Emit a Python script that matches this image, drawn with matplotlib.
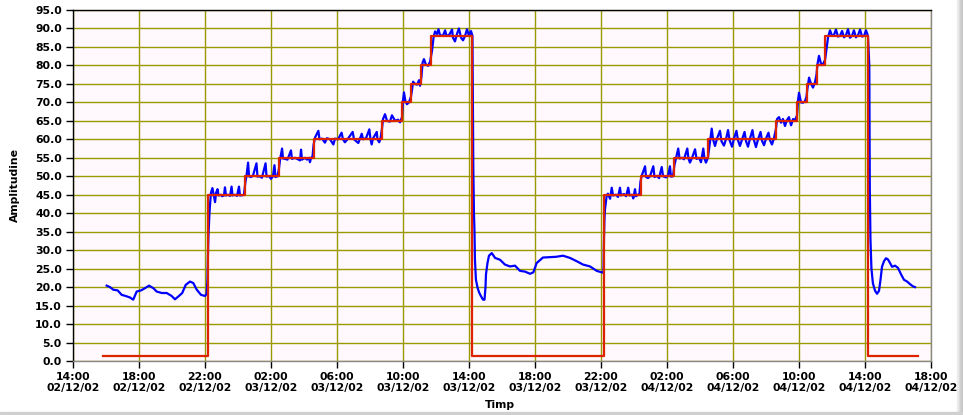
import numpy as np
import matplotlib
matplotlib.use("Agg")
import matplotlib.pyplot as plt
import matplotlib.dates as mdates
from matplotlib.patches import Rectangle

# time is given in hours after 14:00 02/12/02
start = np.datetime64("2002-12-02T14:00")

setpoint_h = [1.82, 8.20, 10.42, 12.50, 14.60, 18.70, 19.96, 20.50, 21.10, 21.70,
              24.20, 32.20, 34.40, 36.40, 38.50, 42.60, 43.90, 44.50, 45.07, 45.60,
              48.20, 51.20]
setpoint_v = [1.3, 45, 50, 55, 60, 65, 70, 75, 80, 88,
              1.3, 45, 50, 55, 60, 65, 70, 75, 80, 88,
              1.3, 1.3]

measured_h = [
    2.04, 2.24, 2.44, 2.71, 2.95, 3.19, 3.45, 3.65, 3.86, 4.12, 4.36, 4.61, 4.87,
    5.07, 5.38, 5.68, 5.98, 6.18, 6.42, 6.62, 6.83, 7.09, 7.29, 7.50, 7.76, 8.00,
    8.10, 8.15, 8.18, 8.21, 8.27, 8.30, 8.36, 8.45, 8.55, 8.61, 8.67, 8.76, 8.82,
    8.97, 9.03, 9.15, 9.21, 9.27, 9.39, 9.52, 9.61, 9.67, 9.82, 9.94, 10.06, 10.12,
    10.30, 10.36, 10.45, 10.52, 10.61, 10.67, 10.79, 10.91, 11.12, 11.18, 11.33,
    11.45, 11.67, 11.73, 11.88, 12.00, 12.12, 12.21, 12.27, 12.39, 12.48, 12.55,
    12.67, 12.73, 12.85, 13.00, 13.21, 13.27, 13.45, 13.76, 13.82, 13.88, 14.06,
    14.18, 14.30, 14.36, 14.42, 14.52, 14.58, 14.67, 14.87, 14.94, 15.09, 15.27,
    15.39, 15.58, 15.78, 15.88, 16.06, 16.28, 16.36, 16.48, 16.67, 16.95, 17.03,
    17.29, 17.39, 17.50, 17.58, 17.76, 17.96, 18.03, 18.10, 18.18, 18.41, 18.45,
    18.56, 18.64, 18.73, 18.79, 18.91, 19.03, 19.21, 19.33, 19.52, 19.70, 19.82,
    19.94, 20.00, 20.06, 20.15, 20.24, 20.36, 20.48, 20.55, 20.61, 20.73, 20.85,
    20.97, 21.03, 21.12, 21.19, 21.27, 21.39, 21.52, 21.64, 21.76, 21.85, 21.94,
    22.06, 22.15, 22.24, 22.42, 22.55, 22.64, 22.79, 22.97, 23.03, 23.15, 23.27,
    23.39, 23.52, 23.64, 23.76, 23.88, 24.00, 24.12, 24.21, 24.26, 24.30, 24.33,
    24.36, 24.42, 24.52, 24.61, 24.73, 24.85, 24.94, 25.00, 25.03, 25.12, 25.21,
    25.38, 25.58, 25.88, 26.18, 26.48, 26.79, 27.09, 27.39, 27.70, 27.90, 28.10,
    28.48, 28.91, 29.27, 29.70, 30.12, 30.53, 30.91, 31.33, 31.74, 32.04, 32.15,
    32.18, 32.21, 32.24, 32.34, 32.42, 32.55, 32.65, 32.73, 32.91, 33.03, 33.15,
    33.21, 33.39, 33.52, 33.65, 33.73, 33.88, 33.96, 34.06, 34.12, 34.24, 34.33,
    34.39, 34.48, 34.67, 34.73, 34.85, 34.97, 35.17, 35.24, 35.39, 35.52, 35.68,
    35.76, 35.94, 36.06, 36.18, 36.24, 36.36, 36.45, 36.55, 36.68, 36.76, 36.91,
    37.03, 37.23, 37.30, 37.39, 37.52, 37.70, 37.79, 37.94, 38.06, 38.20, 38.27,
    38.36, 38.48, 38.58, 38.71, 38.79, 38.91, 39.03, 39.21, 39.30, 39.45, 39.58,
    39.70, 39.79, 39.94, 40.06, 40.21, 40.30, 40.42, 40.55, 40.70, 40.79, 40.91,
    41.03, 41.18, 41.27, 41.39, 41.52, 41.67, 41.76, 41.88, 42.00, 42.15, 42.24,
    42.36, 42.48, 42.61, 42.67, 42.79, 42.91, 43.03, 43.15, 43.27, 43.39, 43.52,
    43.64, 43.76, 43.88, 43.94, 44.00, 44.12, 44.24, 44.36, 44.45, 44.52, 44.61,
    44.73, 44.85, 44.97, 45.06, 45.12, 45.21, 45.33, 45.45, 45.58, 45.67, 45.76,
    45.88, 46.00, 46.12, 46.24, 46.36, 46.48, 46.61, 46.73, 46.85, 46.97, 47.09,
    47.21, 47.33, 47.45, 47.58, 47.70, 47.82, 47.94, 48.06, 48.18, 48.26, 48.29,
    48.33, 48.39, 48.48, 48.61, 48.73, 48.85, 48.94, 49.03, 49.15, 49.27, 49.39,
    49.52, 49.64, 49.82, 50.00, 50.18, 50.36, 50.55, 50.73, 50.91, 51.03]
measured_v = [
    20.4, 20.0, 19.3, 19.1, 17.9, 17.6, 17.2, 16.6, 18.8, 19.1, 19.7, 20.4, 19.7,
    18.8, 18.4, 18.4, 17.6, 16.7, 17.6, 18.4, 20.6, 21.5, 21.1, 19.3, 17.9, 17.6,
    18.2, 22.0, 29.0, 34.0, 40.0, 42.0, 45.5, 46.8, 44.5, 43.0, 45.5, 46.5, 44.8,
    45.0, 44.6, 44.8, 47.0, 44.8, 45.0, 44.7, 47.2, 44.8, 45.0, 44.7, 47.2, 44.8,
    44.9, 45.0, 48.5, 50.3, 53.7, 50.0, 49.8, 50.2, 53.5, 49.9, 50.0,
    49.6, 53.5, 49.9, 50.1, 49.3, 50.0, 53.0, 49.8, 50.0, 52.0, 54.5,
    57.5, 54.8, 54.7, 54.5, 57.0, 54.7, 55.0, 54.3, 57.2, 54.5, 55.0,
    54.5, 55.0, 53.8, 54.8, 55.5, 58.5, 60.5, 62.3, 60.0, 60.2, 59.1,
    60.3, 60.0, 58.6, 60.2, 60.0, 61.8, 60.0, 59.2, 60.2, 62.0, 60.0,
    59.0, 60.2, 61.5, 60.0, 60.3, 62.7, 60.0, 58.6, 60.2, 62.0, 60.0,
    59.2, 60.3, 63.0, 65.5, 66.8, 65.0, 64.8, 66.5, 65.0, 65.3, 64.6,
    66.0, 70.5, 72.7, 70.2, 69.5, 70.0, 71.5, 73.5, 75.6, 75.0, 74.8,
    76.0, 74.5, 77.0, 80.8, 81.7, 80.2, 79.9, 81.0, 84.0, 87.5, 89.2,
    88.5, 89.8, 88.2, 88.0, 89.5, 88.0, 88.2, 89.7, 87.5, 86.5, 88.5,
    90.0, 87.5, 86.8, 88.0, 89.8, 88.0, 89.3, 88.0, 52.5, 40.0, 35.6,
    27.4, 22.0, 19.8, 18.6, 17.5, 16.6, 16.6, 20.0, 23.5, 26.5, 28.5,
    29.2, 27.9, 27.4, 26.1, 25.6, 25.8, 24.4, 24.2, 23.6, 24.0, 26.5,
    28.0, 28.1, 28.2, 28.5, 27.9, 27.0, 26.1, 25.6, 24.4, 24.0, 23.9,
    33.0, 38.3, 41.0, 44.6, 45.3, 43.9, 46.9, 44.8, 45.0, 44.4, 46.9,
    44.8, 45.2, 44.6, 46.9, 44.8, 45.0, 44.0, 46.5, 44.6, 45.0, 45.2,
    48.5, 50.3, 52.7, 49.8, 49.5, 50.0, 52.7, 49.8, 50.1, 49.5, 52.5,
    50.0, 49.7, 50.1, 52.7, 49.9, 50.0, 53.0, 55.0, 57.5, 54.8, 55.0,
    54.6, 57.5, 54.8, 53.7, 55.0, 57.3, 54.7, 55.0, 53.8, 57.5, 54.8,
    53.7, 55.0, 58.5, 62.9, 60.0, 58.2, 60.2, 62.3, 59.5, 58.3, 60.1,
    62.5, 59.8, 58.0, 60.2, 62.3, 59.8, 58.2, 60.0, 62.0, 59.5, 58.0,
    60.2, 62.5, 59.8, 57.9, 60.0, 62.0, 59.6, 58.4, 60.2, 61.8, 59.8,
    58.6, 60.2, 63.0, 65.5, 66.0, 64.5, 65.5, 63.6, 65.2, 66.0, 63.8,
    65.5, 65.2, 66.5, 70.5, 72.6, 70.0, 69.9, 70.3, 71.5, 74.0, 76.7,
    75.0, 74.0, 75.5, 77.5, 80.3, 82.6, 80.5, 80.3, 81.5, 84.5, 87.6,
    89.5, 88.0, 88.3, 89.7, 87.8, 88.0, 89.3, 87.6, 88.2, 89.8, 87.5,
    88.0, 89.5, 87.6, 88.2, 89.7, 87.8, 88.0, 89.5, 88.0, 80.0, 47.0,
    33.0, 25.0, 21.0, 19.0, 18.2, 19.0, 22.0, 25.5, 27.0, 27.8, 27.5,
    26.5, 25.5, 25.8, 25.2, 23.5, 22.0, 21.5, 20.8, 20.2, 20.0]

y_ticks = np.arange(0, 95.1, 5)


def to_time(hours):
    return start + (np.array(hours) * 3600).round().astype("timedelta64[s]")


plt.rcParams["font.family"] = "DejaVu Sans"
plt.rcParams["font.weight"] = "bold"

fig = plt.figure(figsize=(9.63, 4.15), dpi=100)
fig.patch.set_facecolor("white")

# grey window edge on the right and bottom (drawn first, behind the axes)
for i, c in enumerate(["#ececec", "#dedede", "#d0d0d0", "#c4c4c4"]):
    fig.patches.append(Rectangle((957 / 963 + i * 1.5 / 963, 0), 1.5 / 963, 1,
                                 transform=fig.transFigure, color=c, zorder=-5))
fig.patches.append(Rectangle((0, 0), 1, 3 / 415, transform=fig.transFigure,
                             color="#d0d0d0", zorder=-5))

ax = fig.add_axes([73 / 963, 1 - 361 / 415, 858 / 963, 351 / 415])
ax.set_facecolor("#fff8fd")

ax.plot(to_time(measured_h), measured_v, color="#0000ff", lw=1.6, zorder=3)
ax.plot(to_time(setpoint_h), setpoint_v, color="#dd2200", lw=1.6,
        drawstyle="steps-post", zorder=4)

ax.set_ylim(0, 95)
ax.set_yticks(y_ticks)
ax.yaxis.set_major_formatter(matplotlib.ticker.FormatStrFormatter("%.1f"))
ax.set_xlim(start, start + np.timedelta64(52, "h"))
ax.xaxis.set_major_locator(mdates.HourLocator(byhour=[2, 6, 10, 14, 18, 22]))
ax.xaxis.set_major_formatter(mdates.DateFormatter("%H:%M\n%d/%m/%y"))

ax.grid(True, color="#9a9a00", lw=1.0)
ax.set_axisbelow(True)
ax.tick_params(labelsize=7.8, length=5, width=1, colors="black", pad=3)
for lab in ax.get_xticklabels() + ax.get_yticklabels():
    lab.set_fontweight("bold")
    lab.set_linespacing(1.05)

ax.spines["left"].set_color("black")
ax.spines["top"].set_color("black")
ax.spines["right"].set_color("#888888")
ax.spines["bottom"].set_color("#888888")
for s in ax.spines.values():
    s.set_linewidth(1.0)

ax.set_ylabel("Amplitudine", fontsize=7.8, fontweight="bold")
ax.yaxis.set_label_coords(-0.062, 0.5)
ax.set_xlabel("Timp", fontsize=7.8, fontweight="bold")
ax.xaxis.set_label_coords(0.498, -0.11)

fig.savefig("out.png", dpi=100)
